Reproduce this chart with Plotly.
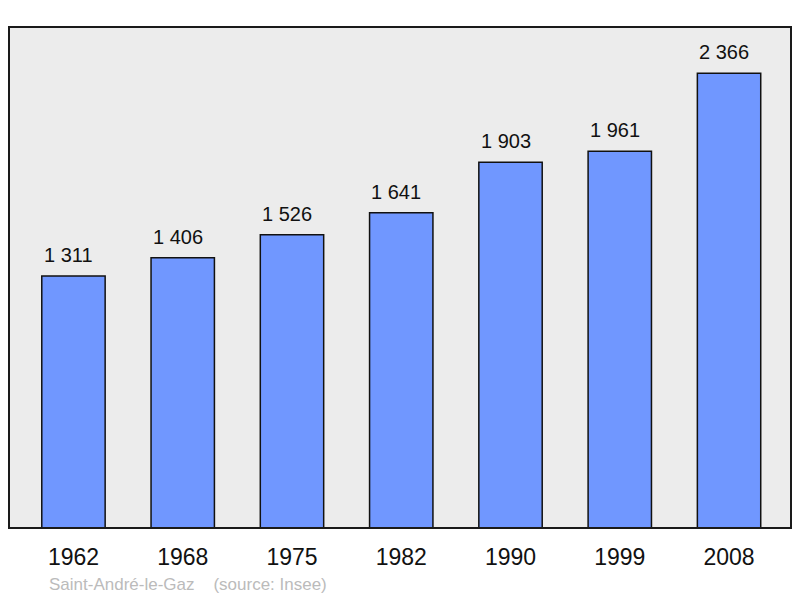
import plotly.graph_objects as go

years = ["1962", "1968", "1975", "1982", "1990", "1999", "2008"]
population = [1311, 1406, 1526, 1641, 1903, 1961, 2366]
labels = ["1 311", "1 406", "1 526", "1 641", "1 903", "1 961", "2 366"]

# page body has an 8px margin; compensate so the figure fills the 800x598 view
OFF = 8
W, H = 800 - OFF, 598 - OFF
L, R, T, B = 9 - OFF, 800 - 791, 27 - OFF, 598 - 528
FONT = "Liberation Sans, Arial, sans-serif"

fig = go.Figure()
fig.add_trace(go.Bar(
    x=years, y=population,
    marker=dict(color="#7097ff", line=dict(color="#111111", width=1.5)),
    width=0.58,
    hoverinfo="skip",
))

for i, (v, lab) in enumerate(zip(population, labels)):
    fig.add_annotation(x=i, y=v, text=lab, showarrow=False, yanchor="bottom",
                       yshift=8, xshift=-5, font=dict(size=20, color="#111111", family=FONT))

pw, ph = W - L - R, H - T - B
fig.add_annotation(xref="paper", yref="paper", x=(47 - OFF - L) / pw, y=-(584 - 528) / ph,
                   xanchor="left", yanchor="middle", showarrow=False,
                   text="Saint-André-le-Gaz &nbsp;&nbsp;&nbsp;(source: Insee)",
                   font=dict(size=17, color="#bbbbbb", family=FONT))

fig.add_shape(type="rect", xref="paper", yref="paper", x0=0, y0=0, x1=1, y1=1,
              line=dict(color="#1a1a1a", width=2), layer="above")

fig.update_layout(
    width=W, height=H,
    margin=dict(l=L, r=R, t=T, b=B, pad=0),
    paper_bgcolor="white", plot_bgcolor="#ececec",
    showlegend=False,
    xaxis=dict(type="category", range=[-0.59, 6.567], showgrid=False, zeroline=False,
               ticks="outside", ticklen=8, tickcolor="rgba(0,0,0,0)",
               tickfont=dict(size=23, color="#111111", family=FONT)),
    yaxis=dict(range=[0, 2607], showgrid=False, zeroline=False, showticklabels=False),
    font=dict(family=FONT),
)

fig.write_html("out.html")
